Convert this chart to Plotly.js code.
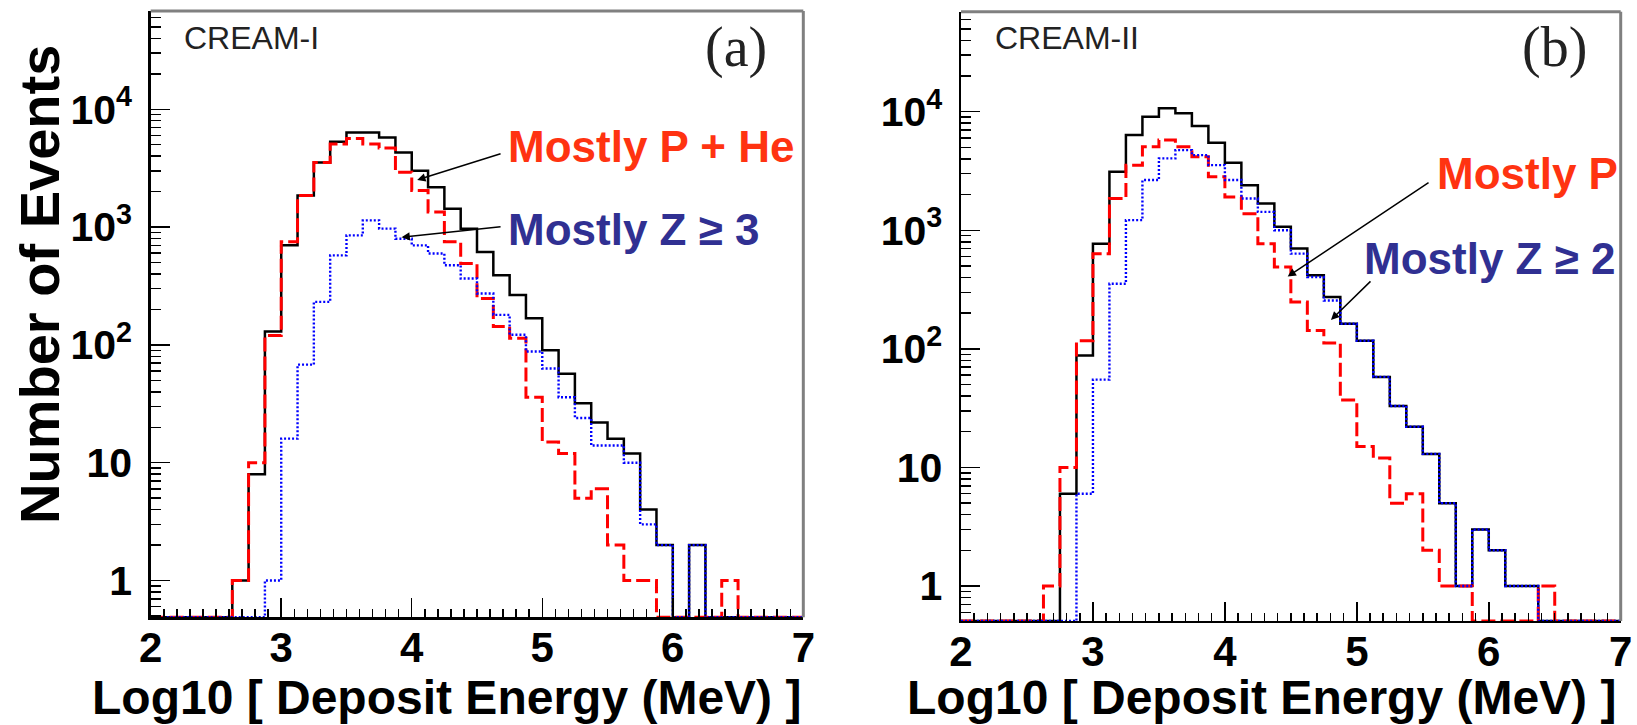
<!DOCTYPE html>
<html>
<head>
<meta charset="utf-8">
<script src="https://cdn.plot.ly/plotly-3.0.1.min.js"></script>
<style>
  html, body { margin: 0; padding: 0; background: #ffffff; }
  #chart { width: 1637px; height: 725px; }
</style>
</head>
<body>
<div id="chart"></div>
<script>
// Histogram binning: 40 bins of 0.125 in Log10(deposit energy / MeV), from 2 to 7
const binStart = 2.0;
const binWidth = 0.125;

// CREAM-I counts per bin
const creamIAll = [0,0,0,0,0, 1,8,130,700,1850, 3540,5300,6350,6350,5760, 4300,3010,2180,1430,970,
                   615,391,265,168,90, 57,32,22,16,12, 4,2,0,2,0, 0,0,0,0,0];
const creamIPHe = [0,0,0,0,0, 1,10,120,750,1850, 3540,5060,5650,5060,4700, 2920,2040,1340,750,490,
                   248,143,114,36,15, 12,5,6,2,1, 1,0,0,0,0, 1,0,0,0,0];
const creamIZ3 =  [0,0,0,0,0, 0,0,1,16,68, 232,575,850,1140,970, 796,700,596,474,366,
                   273,180,122,88,63, 36,24,14,14,10, 3,2,0,2,0, 0,0,0,0,0];

// CREAM-II counts per bin
const creamIIAll = [0,0,0,0,0, 0,6,88,771,3110, 6350,9070,10700,9680,7570, 5470,3710,2400,1680,1070,
                    700,417,273,163,117, 58,33,22,13,5, 1,3,2,1,1, 0,0,0,0,0];
const creamIIP =   [0,0,0,0,0, 1,10,117,635,1850, 3540,5060,5760,5060,4170, 2820,1910,1380,771,490,
                    248,143,112,37,15, 12,5,6,2,1, 1,0,0,0,0, 1,0,0,0,0];
const creamIIZ2 =  [0,0,0,0,0, 0,0,6,55,354, 1217,2650,4040,4740,4300, 3540,2650,1850,1430,1000,
                    635,403,256,163,117, 58,33,22,13,5, 1,3,2,1,1, 0,0,0,0,0];

// Axis tick labels
const xTickVals = [2, 3, 4, 5, 6, 7];
const xTickText = ['<b>2</b>', '<b>3</b>', '<b>4</b>', '<b>5</b>', '<b>6</b>', '<b>7</b>'];
const xHalfTicks = [2.5, 3.5, 4.5, 5.5, 6.5];
const yTickVals = [1, 10, 100, 1000, 10000];
const yTickText = ['<b>1</b>', '<b>10</b>', '<b>10<sup>2</sup></b>', '<b>10<sup>3</sup></b>', '<b>10<sup>4</sup></b>'];

// Visible log10 ranges of the two frames
const yRangeA = [-0.312, 4.834];
const yRangeB = [-0.295, 4.843];

const SANS = 'Liberation Sans, Arial, Helvetica, sans-serif';
const SERIF = 'Liberation Serif, Times New Roman, serif';

// Step outline of a histogram; empty bins sit on the bottom edge of the frame
function stepTrace(counts, floorLog, xa, ya, line) {
  const floorVal = Math.pow(10, floorLog);
  const xs = [], ys = [];
  for (let i = 0; i < counts.length; i++) {
    xs.push(binStart + i * binWidth);
    ys.push(counts[i] > 0 ? counts[i] : floorVal);
  }
  xs.push(binStart + counts.length * binWidth);
  ys.push(ys[ys.length - 1]);
  return { x: xs, y: ys, xaxis: xa, yaxis: ya, type: 'scatter', mode: 'lines',
           line: Object.assign({ shape: 'hv' }, line), hoverinfo: 'skip' };
}

const lineAll = { color: '#000000', width: 2.5 };
const lineP = { color: '#ff0000', width: 3, dash: '14px,5px' };
const lineZ = { color: '#0000ff', width: 2.4, dash: '2px,2px' };

const traces = [
  stepTrace(creamIAll, yRangeA[0], 'x', 'y', lineAll),
  stepTrace(creamIPHe, yRangeA[0], 'x', 'y', lineP),
  stepTrace(creamIZ3, yRangeA[0], 'x', 'y', lineZ),
  stepTrace(creamIIAll, yRangeB[0], 'x2', 'y2', lineAll),
  stepTrace(creamIIP, yRangeB[0], 'x2', 'y2', lineP),
  stepTrace(creamIIZ2, yRangeB[0], 'x2', 'y2', lineZ)
];

function xAxis(domain, anchor) {
  return {
    domain: domain, anchor: anchor, range: [2, 7], type: 'linear',
    showline: true, linecolor: '#000', linewidth: 2.5, mirror: false,
    showgrid: false, zeroline: false,
    ticks: 'inside', ticklen: 19, tickwidth: 1.5, tickcolor: '#000',
    tickmode: 'array', tickvals: xTickVals, ticktext: xTickText,
    ticklabelstandoff: -8,
    tickfont: { family: SANS, size: 42, color: '#000' },
    minor: { tickmode: 'linear', tick0: 2, dtick: 0.1, ticks: 'inside', ticklen: 8,
             tickwidth: 1.5, tickcolor: '#000', showgrid: false }
  };
}
// Overlay axis carrying the unlabeled half-unit ticks
function xHalfAxis(over, anchor) {
  return {
    overlaying: over, anchor: anchor, range: [2, 7], type: 'linear',
    showline: false, showgrid: false, zeroline: false, showticklabels: false,
    ticks: 'inside', ticklen: 19, tickwidth: 1.5, tickcolor: '#000',
    tickmode: 'array', tickvals: xHalfTicks
  };
}
function yAxis(domain, anchor, range) {
  return {
    domain: domain, anchor: anchor, range: range, type: 'log',
    showline: true, linecolor: '#000', linewidth: 2.5, mirror: false,
    showgrid: false, zeroline: false,
    ticks: 'inside', ticklen: 19, tickwidth: 1.5, tickcolor: '#000',
    tickmode: 'array', tickvals: yTickVals, ticktext: yTickText,
    ticklabelstandoff: 8,
    tickfont: { family: SANS, size: 41, color: '#000' },
    minor: { dtick: 'D1', ticks: 'inside', ticklen: 10, tickwidth: 1.5,
             tickcolor: '#000', showgrid: false }
  };
}

// Grey top and right edges of each frame
function frameEdges(xd, yd) {
  const st = { color: '#808080', width: 3 };
  return [
    { type: 'line', xref: xd, yref: yd, x0: 0, x1: 1, y0: 1, y1: 1, line: st },
    { type: 'line', xref: xd, yref: yd, x0: 1, x1: 1, y0: 0, y1: 1, line: st }
  ];
}

const red = '#ff3311';
const navy = '#303092';
function label(text, x, y, color, size, family, weight, anchor) {
  return { xref: 'paper', yref: 'paper', x: x, y: y, text: text, showarrow: false,
           xanchor: anchor || 'left', yanchor: 'middle',
           font: { family: family || SANS, size: size, color: color, weight: weight || 'normal' } };
}
function arrow(xref, yref, tipX, tipLogY, tailX, tailLogY) {
  return { xref: xref, yref: yref, axref: xref, ayref: yref,
           x: tipX, y: tipLogY, ax: tailX, ay: tailLogY, text: '',
           showarrow: true, arrowhead: 2, arrowsize: 1.1, arrowwidth: 1.5,
           arrowcolor: '#000', standoff: 0, startstandoff: 0 };
}

const layout = {
  width: 1637, height: 725,
  margin: { l: 0, r: 0, t: 0, b: 0, pad: 0 },
  paper_bgcolor: '#ffffff', plot_bgcolor: '#ffffff',
  showlegend: false,
  xaxis: xAxis([0.09206, 0.49072], 'y'),
  yaxis: yAxis([0.14855, 0.98483], 'x', yRangeA),
  xaxis2: xAxis([0.58705, 0.99004], 'y2'),
  yaxis2: yAxis([0.14345, 0.98386], 'x2', yRangeB),
  xaxis3: xHalfAxis('x', 'y'),
  xaxis4: xHalfAxis('x2', 'y2'),
  shapes: frameEdges('x domain', 'y domain').concat(frameEdges('x2 domain', 'y2 domain')),
  annotations: [
    label('CREAM-I', 0.1110, 0.9470, '#222', 32),
    label('(a)', 0.4496, 0.9340, '#222', 56, SERIF, 'normal', 'center'),
    label('CREAM-II', 0.6068, 0.9470, '#222', 32),
    label('(b)', 0.9493, 0.9340, '#222', 56, SERIF, 'normal', 'center'),
    label('Mostly P + He', 0.3094, 0.7986, red, 44, SANS, 'bold'),
    label('Mostly Z \u2265 3', 0.3094, 0.6841, navy, 44, SANS, 'bold'),
    label('Mostly P', 0.8766, 0.7610, red, 44, SANS, 'bold'),
    label('Mostly Z \u2265 2', 0.8323, 0.6428, navy, 44, SANS, 'bold'),
    arrow('x', 'y', 4.042, 3.40, 4.692, 3.6265),
    arrow('x', 'y', 3.922, 2.913, 4.692, 3.0034),
    arrow('x2', 'y2', 4.476, 2.609, 5.555, 3.41),
    arrow('x2', 'y2', 4.804, 2.244, 5.115, 2.581),
    Object.assign(label('Number of Events', 0.0244, 0.6083, '#000', 56, SANS, 'bold', 'center'),
                  { textangle: -90 }),
    label('Log10 [ Deposit Energy (MeV) ]', 0.2725, 0.0385, '#000', 48, SANS, 'bold', 'center'),
    label('Log10 [ Deposit Energy (MeV) ]', 0.7709, 0.0385, '#000', 48, SANS, 'bold', 'center')
  ]
};

Plotly.newPlot('chart', traces, layout, { staticPlot: true, displayModeBar: false });
</script>
</body>
</html>
